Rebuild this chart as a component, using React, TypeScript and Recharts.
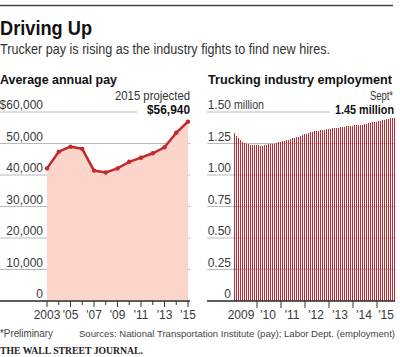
import React from 'react';
import { ComposedChart, Area, XAxis, YAxis, CartesianGrid, BarChart, Bar } from 'recharts';

// ---- Average annual pay ----
const payYears = [2003, 2004, 2005, 2006, 2007, 2008, 2009, 2010, 2011, 2012, 2013, 2014, 2015];
const payValues = [42100, 47400, 49000, 48300, 41400, 40800, 42100, 44200, 45500, 46900, 48800, 53400, 56940];
const payYTicks = [0, 10000, 20000, 30000, 40000, 50000, 60000];
const payYLabels = ['0', '10,000', '20,000', '30,000', '40,000', '50,000', '$60,000'];
const payXLabels = ['2003', '', "'05", '', "'07", '', "'09", '', "'11", '', "'13", '', "'15"];
const payNoteTop = '2015 projected';
const payNoteValue = '$56,940';

// ---- Trucking industry employment (millions, monthly) ----
const empYears = [2009, 2010, 2011, 2012, 2013, 2014, 2015];
const empMonthsPerYear = [12, 12, 12, 12, 12, 12, 9];
const empValues = [
  1.33, 1.31, 1.29, 1.275, 1.265, 1.255, 1.25, 1.245, 1.242, 1.24, 1.238, 1.237,
  1.235, 1.234, 1.233, 1.235, 1.24, 1.243, 1.245, 1.248, 1.25, 1.255, 1.258, 1.262,
  1.268, 1.272, 1.276, 1.28, 1.285, 1.29, 1.295, 1.3, 1.305, 1.31, 1.318, 1.322,
  1.328, 1.332, 1.338, 1.342, 1.348, 1.35, 1.353, 1.355, 1.357, 1.36, 1.362, 1.365,
  1.367, 1.37, 1.372, 1.374, 1.376, 1.378, 1.38, 1.382, 1.385, 1.387, 1.389, 1.391,
  1.393, 1.395, 1.397, 1.399, 1.4, 1.403, 1.406, 1.41, 1.413, 1.417, 1.42, 1.423,
  1.427, 1.431, 1.436, 1.44, 1.444, 1.448, 1.452, 1.451, 1.45,
];
const empYTicks = [0, 0.25, 0.5, 0.75, 1.0, 1.25, 1.5];
const empYLabels = ['0', '0.25', '0.50', '0.75', '1.00', '1.25', '1.50'];
const empYUnit = 'million';
const empYearLabels = ['2009', "'10", "'11", "'12", "'13", "'14", "'15"];
const empNoteTop = 'Sept*';
const empNoteValue = '1.45 million';

// ---- texts ----
const title = 'Driving Up';
const subtitle = 'Trucker pay is rising as the industry fights to find new hires.';
const leftHead = 'Average annual pay';
const rightHead = 'Trucking industry employment';
const footNote = '*Preliminary';
const sources = 'Sources: National Transportation Institute (pay); Labor Dept. (employment)';
const brand = 'THE WALL STREET JOURNAL.';

const payData = payYears.map((y, i) => ({ year: y, pay: payValues[i] }));
const empData: { m: string; v: number }[] = [];
{
  let k = 0;
  empYears.forEach((y, yi) => {
    for (let mo = 1; mo <= empMonthsPerYear[yi]; mo++) {
      empData.push({ m: `${y}-${String(mo).padStart(2, '0')}`, v: empValues[k++] });
    }
  });
}

const RED = '#c2282e';
const PINK = '#fbd4ca';
const GRID = '#b9b9b9';
const AXIS = '#333';
const TICKTXT = '#3a3a3a';
const FONT = "'Liberation Sans', Arial, sans-serif";
const NARROW = "'Liberation Sans Narrow', 'Liberation Sans', Arial, sans-serif";

const PayYTick = (props: any) => {
  const { y, payload } = props;
  const idx = payYTicks.indexOf(payload.value);
  return (
    <text x={43} y={y - 3} textAnchor="end" fontSize={12} fill={TICKTXT} fontFamily={FONT}>
      {payYLabels[idx]}
    </text>
  );
};

const PayXTick = (props: any) => {
  const { x, y, payload } = props;
  const idx = payYears.indexOf(payload.value);
  const lab = payXLabels[idx];
  return (
    <g>
      <line x1={x} x2={x} y1={y} y2={y + (lab ? 6 : 4)} stroke={AXIS} strokeWidth={1} />
      {lab ? (
        <text x={x} y={y + 17.5} textAnchor="middle" fontSize={12} fill={TICKTXT} fontFamily={FONT}>
          {lab}
        </text>
      ) : null}
    </g>
  );
};

const EmpYTick = (props: any) => {
  const { y, payload } = props;
  const idx = empYTicks.indexOf(payload.value);
  const top = idx === empYTicks.length - 1;
  return (
    <g>
      <text x={31} y={y - 3} textAnchor="end" fontSize={12} fill={TICKTXT} fontFamily={FONT}>
        {empYLabels[idx]}
      </text>
      {top ? (
        <text x={34} y={y - 3} fontSize={12} fill={TICKTXT} fontFamily={FONT} textLength={30} lengthAdjust="spacingAndGlyphs">
          {empYUnit}
        </text>
      ) : null}
    </g>
  );
};

const EmpXTick = (props: any) => {
  const { x, y, payload } = props;
  const [ys, ms] = String(payload.value).split('-');
  const yi = empYears.indexOf(Number(ys));
  const mi = Number(ms);
  const n = empMonthsPerYear[yi];
  const parts: React.ReactNode[] = [];
  if (mi === 1 && yi > 0) {
    parts.push(<line key="t" x1={x - 1} x2={x - 1} y1={y} y2={y + 7} stroke={AXIS} strokeWidth={1} />);
  }
  if (mi - 1 === Math.floor(n / 2)) {
    const lx = n % 2 === 0 ? x - (yi === 0 ? 5 : 2) : x;
    parts.push(
      <text key="l" x={lx} y={y + 17.5} textAnchor="middle" fontSize={12} fill={TICKTXT} fontFamily={FONT}>
        {empYearLabels[yi]}
      </text>
    );
  }
  return <g>{parts}</g>;
};

const makeGridLine = (topY: number, cutX: number) => (p: any) => {
  const isTop = Math.abs(p.y1 - topY) < 1;
  return (
    <line
      key={p.key}
      x1={p.x1}
      x2={isTop ? cutX : p.x2}
      y1={p.y1}
      y2={p.y2}
      stroke={GRID}
      strokeWidth={1}
    />
  );
};

export default function App() {
  return (
    <div style={{ position: 'absolute', left: 0, top: 0, width: 400, height: 357, background: '#fff', overflow: 'hidden' }}>
      <div style={{ position: 'absolute', left: 0, top: 0 }}>
        <ComposedChart width={200} height={357} data={payData} margin={{ top: 112, right: 10, bottom: 26, left: -1 }}>
          <CartesianGrid vertical={false} horizontal={makeGridLine(112, 137) as any} />
          <XAxis
            dataKey="year"
            type="number"
            domain={[2003, 2015]}
            ticks={payYears}
            interval={0}
            padding={{ left: 47, right: 2 }}
            height={30}
            tickSize={0}
            tickMargin={0}
            tickLine={false}
            axisLine={{ stroke: AXIS, strokeWidth: 1.3 }}
            tick={<PayXTick />}
          />
          <YAxis
            width={1}
            domain={[0, 60000]}
            ticks={payYTicks}
            interval={0}
            axisLine={false}
            tickLine={false}
            tick={<PayYTick />}
          />
          <Area
            type="linear"
            dataKey="pay"
            stroke={RED}
            strokeWidth={2.5}
            fill={PINK}
            fillOpacity={1}
            dot={{ r: 2.2, fill: RED, stroke: RED, strokeWidth: 0 }}
            activeDot={false}
            isAnimationActive={false}
          />
        </ComposedChart>
      </div>
      <div style={{ position: 'absolute', left: 200, top: 0 }}>
        <BarChart width={200} height={357} data={empData} margin={{ top: 112, right: 5, bottom: 26, left: 6 }} barCategoryGap={0}>
          <CartesianGrid vertical={false} horizontal={makeGridLine(112, 130) as any} />
          <XAxis
            dataKey="m"
            type="category"
            interval={0}
            padding={{ left: 26, right: 0 }}
            height={30}
            tickSize={0}
            tickMargin={0}
            tickLine={false}
            axisLine={{ stroke: AXIS, strokeWidth: 1.3 }}
            tick={<EmpXTick />}
          />
          <YAxis
            width={1}
            domain={[0, 1.5]}
            ticks={empYTicks}
            interval={0}
            axisLine={false}
            tickLine={false}
            tick={<EmpYTick />}
          />
          <Bar dataKey="v" fill={RED} barSize={1} shapeRendering="crispEdges" isAnimationActive={false} />
        </BarChart>
      </div>
      <svg width={400} height={357} style={{ position: 'absolute', left: 0, top: 0, pointerEvents: 'none' }}>
        <line x1={0} x2={393} y1={5.5} y2={5.5} stroke="#444" strokeWidth={1.5} />
        <text x={0} y={35} fontSize={21} fontWeight="bold" fill="#111" fontFamily={NARROW} textLength={92} lengthAdjust="spacingAndGlyphs">{title}</text>
        <text x={0} y={53.5} fontSize={14} fill="#333" fontFamily={NARROW} textLength={330} lengthAdjust="spacingAndGlyphs">{subtitle}</text>
        <text x={0} y={84} fontSize={13} fontWeight="bold" fill="#111" fontFamily={NARROW} textLength={117} lengthAdjust="spacingAndGlyphs">{leftHead}</text>
        <text x={208} y={84} fontSize={13} fontWeight="bold" fill="#111" fontFamily={NARROW} textLength={184} lengthAdjust="spacingAndGlyphs">{rightHead}</text>
        <text x={190} y={100} textAnchor="end" fontSize={12} fill="#333" fontFamily={NARROW} textLength={75} lengthAdjust="spacingAndGlyphs">{payNoteTop}</text>
        <text x={190} y={114} textAnchor="end" fontSize={12.5} fontWeight="bold" fill="#111" fontFamily={NARROW} textLength={43} lengthAdjust="spacingAndGlyphs">{payNoteValue}</text>
        <text x={393} y={100} textAnchor="end" fontSize={12} fill="#333" fontFamily={NARROW} textLength={23} lengthAdjust="spacingAndGlyphs">{empNoteTop}</text>
        <text x={394} y={114} textAnchor="end" fontSize={12} fontWeight="bold" fill="#111" fontFamily={NARROW} textLength={59} lengthAdjust="spacingAndGlyphs">{empNoteValue}</text>
        <text x={0} y={337} fontSize={10.5} fill="#444" fontFamily={NARROW} textLength={53} lengthAdjust="spacingAndGlyphs">{footNote}</text>
        <text x={395} y={337} textAnchor="end" fontSize={9.5} fill="#444" fontFamily={NARROW} textLength={316} lengthAdjust="spacingAndGlyphs">{sources}</text>
        <text x={0} y={354} fontSize={11} fontWeight="bold" fill="#222" fontFamily="'Liberation Serif', 'DejaVu Serif', serif" textLength={143} lengthAdjust="spacingAndGlyphs">{brand}</text>
      </svg>
    </div>
  );
}
